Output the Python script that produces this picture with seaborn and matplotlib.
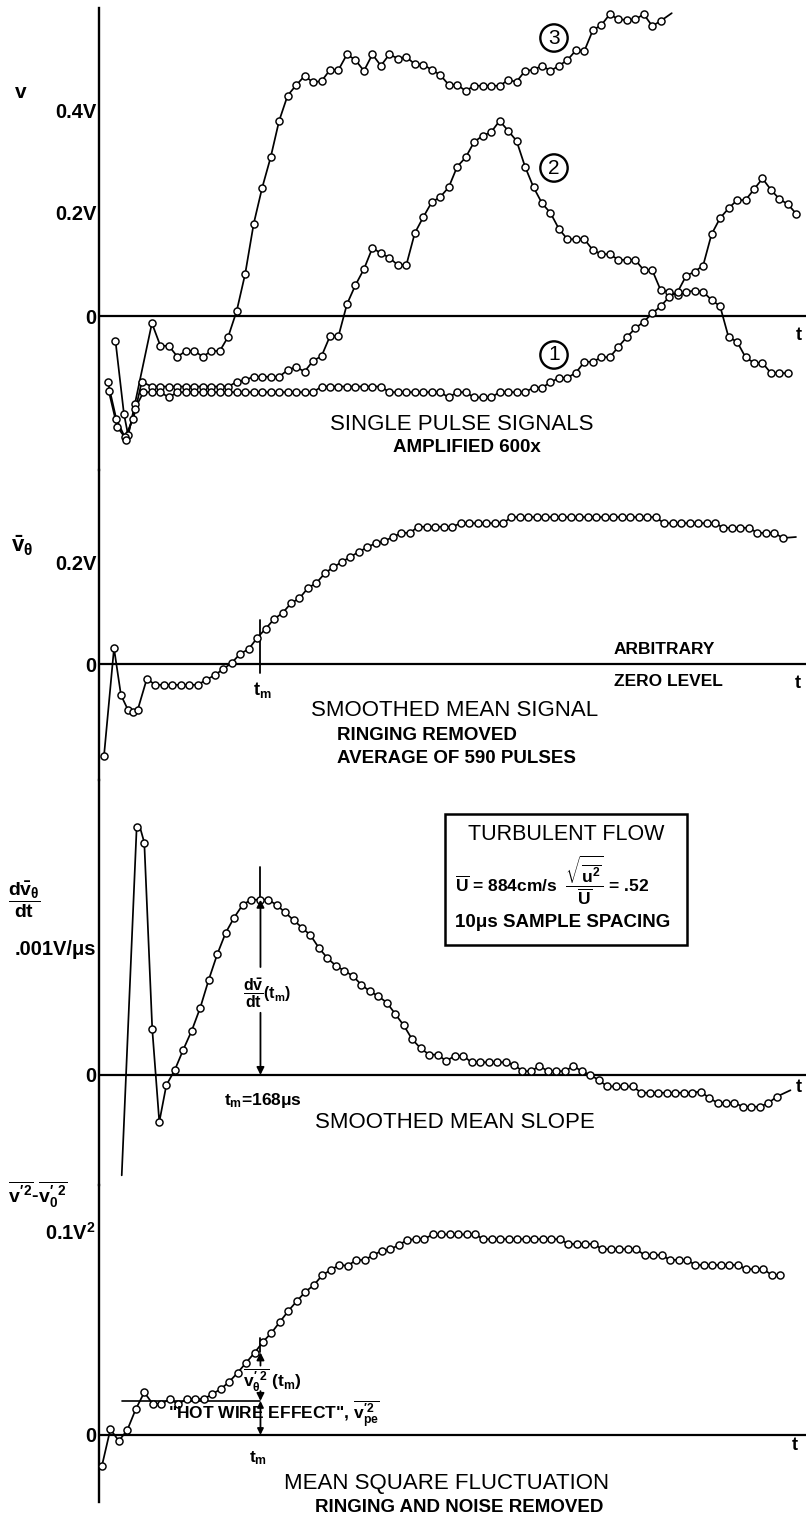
import numpy as np
import seaborn as sns
import matplotlib.pyplot as plt
from matplotlib.patches import Rectangle

# ---------------- data (time in microseconds, 10 us sample spacing) ----------------
TM = 168  # t_m, us

# panel 1: single pulse signals (V)
c3_ring_t = [-3, 7, 12, 20]
c3_ring_v = [-0.048, -0.19, -0.232, -0.17]
c3_start = 40
c3_v = [-0.014, -0.058, -0.058, -0.079, -0.068, -0.068, -0.079, -0.068, -0.068, -0.04,
        0.01, 0.082, 0.179, 0.249, 0.308, 0.379, 0.428, 0.448, 0.466, 0.454,
        0.456, 0.478, 0.478, 0.508, 0.497, 0.476, 0.508, 0.486, 0.508, 0.5,
        0.503, 0.489, 0.488, 0.478, 0.468, 0.449, 0.449, 0.437, 0.447, 0.447,
        0.447, 0.447, 0.458, 0.455, 0.476, 0.478, 0.486, 0.476, 0.486, 0.497,
        0.516, 0.515, 0.555, 0.565, 0.586, 0.576, 0.575, 0.576, 0.586, 0.563,
        0.573]
c3_end = (653, 0.588)

c2_ring_t = [-12, -2, 8, 18, 28]
c2_ring_v = [-0.128, -0.2, -0.235, -0.2, -0.128]
c2_start = 40
c2_v = [-0.137, -0.137, -0.137, -0.137, -0.137, -0.137, -0.137, -0.137, -0.137, -0.137,
        -0.128, -0.124, -0.118, -0.118, -0.118, -0.118, -0.105, -0.099, -0.108, -0.087,
        -0.078, -0.039, -0.039, 0.023, 0.06, 0.091, 0.132, 0.122, 0.113, 0.099,
        0.099, 0.161, 0.192, 0.221, 0.231, 0.25, 0.29, 0.308, 0.338, 0.35,
        0.357, 0.379, 0.36, 0.34, 0.29, 0.25, 0.219, 0.2, 0.169, 0.149,
        0.149, 0.149, 0.128, 0.12, 0.12, 0.109, 0.109, 0.109, 0.089, 0.089,
        0.05, 0.047, 0.041, 0.047, 0.049, 0.047, 0.031, 0.019, -0.041, -0.05,
        -0.08, -0.091, -0.091, -0.111, -0.111, -0.111]

c1_ring_t = [-11, -1, 10, 20]
c1_ring_v = [-0.145, -0.215, -0.24, -0.18]
c1_start = 30
c1_v = [-0.148, -0.148, -0.148, -0.158, -0.148, -0.148, -0.148, -0.148, -0.148, -0.148,
        -0.148, -0.148, -0.148, -0.148, -0.148, -0.148, -0.148, -0.148, -0.148, -0.148,
        -0.148, -0.137, -0.137, -0.137, -0.137, -0.137, -0.137, -0.137, -0.137, -0.148,
        -0.148, -0.148, -0.148, -0.148, -0.148, -0.148, -0.158, -0.148, -0.148, -0.158,
        -0.158, -0.158, -0.148, -0.148, -0.148, -0.148, -0.139, -0.139, -0.129, -0.12,
        -0.12, -0.11, -0.089, -0.089, -0.08, -0.08, -0.06, -0.041, -0.024, -0.011,
        0.005, 0.019, 0.037, 0.047, 0.078, 0.086, 0.098, 0.159, 0.19, 0.209,
        0.225, 0.225, 0.246, 0.267, 0.245, 0.227, 0.217, 0.198]

# panel 2: smoothed mean signal (V)
mean_ring_t = [-16.5, -4.7, 3.5, 11.8, 17.3, 23.2]
mean_ring_v = [-0.18, 0.031, -0.061, -0.09, -0.094, -0.09]
mean_start = 34
mean_v = [-0.029, -0.041, -0.041, -0.041, -0.041, -0.041, -0.041, -0.031, -0.022, -0.01,
          0.002, 0.02, 0.029, 0.051, 0.069, 0.088, 0.1, 0.119, 0.129, 0.149,
          0.159, 0.178, 0.19, 0.2, 0.21, 0.22, 0.229, 0.237, 0.241, 0.249,
          0.257, 0.257, 0.269, 0.269, 0.269, 0.269, 0.269, 0.276, 0.276, 0.276,
          0.276, 0.276, 0.276, 0.288, 0.288, 0.288, 0.288, 0.288, 0.288, 0.288,
          0.288, 0.288, 0.288, 0.288, 0.288, 0.288, 0.288, 0.288, 0.288, 0.288,
          0.288, 0.276, 0.276, 0.276, 0.276, 0.276, 0.276, 0.276, 0.267, 0.267,
          0.267, 0.267, 0.257, 0.257, 0.257, 0.247]
mean_end = (799.5, 0.249)

# panel 3: smoothed mean slope (mV/us, i.e. units of .001 V/us)
slope_line_t = [4.4, 25.1]
slope_line_v = [-0.79, 1.97]
slope_ring_t = [22, 31, 40.4, 48.7]
slope_ring_v = [1.95, 1.83, 0.36, -0.37]
slope_start = 57
slope_v = [-0.08, 0.04, 0.2, 0.35, 0.53, 0.75, 0.95, 1.12, 1.24, 1.34,
           1.38, 1.38, 1.38, 1.34, 1.28, 1.22, 1.16, 1.1, 1.0, 0.92,
           0.86, 0.82, 0.78, 0.71, 0.66, 0.62, 0.57, 0.48, 0.39, 0.28,
           0.21, 0.16, 0.16, 0.11, 0.15, 0.15, 0.1, 0.1, 0.1, 0.1,
           0.1, 0.08, 0.03, 0.03, 0.07, 0.03, 0.03, 0.03, 0.07, 0.03,
           0.0, -0.04, -0.09, -0.09, -0.09, -0.09, -0.14, -0.14, -0.14, -0.14,
           -0.14, -0.14, -0.14, -0.13, -0.18, -0.22, -0.22, -0.22, -0.25, -0.25,
           -0.25, -0.22, -0.17]
slope_end = (793, -0.12)

# panel 4: mean square fluctuation (V^2)
msq_start = -19
msq_v = [-0.0152, 0.0028, -0.0029, 0.0025, 0.0127, 0.0209, 0.0152, 0.0152, 0.0176, 0.0152,
         0.0176, 0.0176, 0.0176, 0.02, 0.0225, 0.026, 0.0305, 0.0354, 0.0403, 0.0457,
         0.0501, 0.0555, 0.0609, 0.0657, 0.0702, 0.0735, 0.0784, 0.0809, 0.0833, 0.083,
         0.0858, 0.0858, 0.0882, 0.0903, 0.091, 0.0931, 0.0956, 0.096, 0.096, 0.0983,
         0.0983, 0.0983, 0.0983, 0.0983, 0.0983, 0.096, 0.096, 0.096, 0.096, 0.096,
         0.096, 0.096, 0.096, 0.096, 0.096, 0.0936, 0.0936, 0.0936, 0.0936, 0.0911,
         0.0911, 0.0911, 0.0911, 0.0911, 0.0882, 0.0882, 0.0882, 0.0858, 0.0858, 0.0858,
         0.0833, 0.0833, 0.0833, 0.0833, 0.0833, 0.0833, 0.0813, 0.0813, 0.0813, 0.0784,
         0.0784]
hot_wire_level = 0.0167

# ---------------- style ----------------
sns.set_style("white")
plt.rcParams['font.family'] = ['Liberation Sans', 'DejaVu Sans']
plt.rcParams['text.color'] = 'black'
plt.rcParams['ytick.color'] = 'black'
plt.rcParams['mathtext.fontset'] = 'custom'
plt.rcParams['mathtext.rm'] = 'Liberation Sans:bold'
plt.rcParams['mathtext.it'] = 'Liberation Sans:bold'
plt.rcParams['mathtext.bf'] = 'Liberation Sans:bold'

W, H = 806, 1520
X_AXIS, X0, PX_US = 99, 118, 0.848
T_LEFT = (X_AXIS - X0) / PX_US
T_RIGHT = (W - X0) / PX_US

fig = plt.figure(figsize=(W / 100, H / 100), dpi=100)


def fx(x):
    return x / W


def fy(y):
    return 1 - y / H


def txt(x, y, s, size=13, weight='bold', ha='center', **kw):
    fig.text(fx(x), fy(y), s, fontsize=size, fontweight=weight, ha=ha, va='center',
             color='black', **kw)


def make_ax(top, bottom, zero, scale, ticks, labels):
    ax = fig.add_axes([fx(X_AXIS), 1 - bottom / H, (W - X_AXIS) / W, (bottom - top) / H])
    ax.patch.set_alpha(0)
    ax.set_xlim(T_LEFT, T_RIGHT)
    ax.set_ylim(-(bottom - zero) / scale, (zero - top) / scale)
    for s in ['top', 'right', 'bottom']:
        ax.spines[s].set_visible(False)
    ax.spines['left'].set_linewidth(1.7)
    ax.spines['left'].set_color('k')
    ax.set_xticks([])
    ax.set_yticks(ticks)
    ax.set_yticklabels(labels, fontweight='bold', color='black')
    ax.tick_params(axis='y', direction='in', length=7, width=1.4, pad=2, labelsize=14.5,
                   colors='k')
    ax.axhline(0, color='k', lw=1.6, zorder=1)
    return ax


def draw(ax, mark_t, mark_v, extra_t=(), extra_v=()):
    lt = np.concatenate([np.asarray(mark_t, float), np.asarray(extra_t, float)])
    lv = np.concatenate([np.asarray(mark_v, float), np.asarray(extra_v, float)])
    order = np.argsort(lt)
    sns.lineplot(x=lt[order], y=lv[order], ax=ax, color='k', linewidth=1.25,
                 sort=False, estimator=None, zorder=2)
    sns.scatterplot(x=mark_t, y=mark_v, ax=ax, s=26, color='white', edgecolor='k',
                    linewidth=1.05, zorder=3)


def grid(start, vals):
    return start + 10 * np.arange(len(vals))


# ---------------- panel 1 ----------------
ax1 = make_ax(8, 470, 316, 515, [0, 0.2, 0.4], ['0', '0.2V', '0.4V'])
draw(ax1, np.r_[c3_ring_t, grid(c3_start, c3_v)], np.r_[c3_ring_v, c3_v],
     [c3_end[0]], [c3_end[1]])
draw(ax1, np.r_[c2_ring_t, grid(c2_start, c2_v)], np.r_[c2_ring_v, c2_v])
draw(ax1, np.r_[c1_ring_t, grid(c1_start, c1_v)], np.r_[c1_ring_v, c1_v])
ax1.set_ylabel('')
txt(21, 92, 'v', size=15)
circ = dict(boxstyle='circle,pad=0.2', fc='white', ec='k', lw=1.7)
for num, yy in [('3', 38), ('2', 168), ('1', 355)]:
    txt(554, yy, num, size=15, weight='normal', bbox=circ)
txt(799, 336, 't', size=13)
txt(462, 425, 'SINGLE PULSE SIGNALS', size=16, weight='normal')
txt(467, 448, 'AMPLIFIED 600x', size=13.5)

# ---------------- panel 2 ----------------
ax2 = make_ax(470, 780, 664, 510, [0, 0.2], ['0', '0.2V'])
draw(ax2, np.r_[mean_ring_t, grid(mean_start, mean_v)], np.r_[mean_ring_v, mean_v],
     [mean_end[0]], [mean_end[1]])
ax2.plot([TM, TM], [0.086, -0.018], color='k', lw=1.3)
txt(22, 546, r'$\bar{v}_{\theta}$', size=16)
txt(262, 690, r't$_{m}$', size=13)
txt(614, 650, 'ARBITRARY', size=12.5, ha='left')
txt(614, 681, 'ZERO LEVEL', size=12.5, ha='left')
txt(798, 684, 't', size=13)
txt(455, 711, 'SMOOTHED MEAN SIGNAL', size=16, weight='normal')
txt(337, 736, 'RINGING REMOVED', size=13.5, ha='left')
txt(337, 758, 'AVERAGE OF 590 PULSES', size=13.5, ha='left')

# ---------------- panel 3 ----------------
ax3 = make_ax(780, 1185, 1075, 127, [0, 1.0], ['0', '.001V/\u03bcs'])
draw(ax3, np.r_[slope_ring_t, grid(slope_start, slope_v)], np.r_[slope_ring_v, slope_v],
     np.r_[slope_line_t, slope_end[0]], np.r_[slope_line_v, slope_end[1]])
arrow = dict(arrowstyle='-|>', color='k', lw=1.3, mutation_scale=11, shrinkA=0, shrinkB=0)
ax3.plot([TM, TM], [1.64, 1.38], color='k', lw=1.3)
ax3.annotate('', xy=(TM, 1.38), xytext=(TM, 0.85), arrowprops=arrow)
ax3.annotate('', xy=(TM, 0), xytext=(TM, 0.49), arrowprops=arrow)
txt(24, 900, r'$\dfrac{d\bar{v}_{\theta}}{dt}$', size=14)
txt(267, 993, r'$\dfrac{d\bar{v}}{dt}$(t$_{m}$)', size=11.5)
txt(263, 1101, r't$_{m}$=168$\mu$s', size=12.5)
txt(799, 1088, 't', size=13)
txt(455, 1123, 'SMOOTHED MEAN SLOPE', size=16, weight='normal')
fig.add_artist(Rectangle((fx(445), fy(945)), (687 - 445) / W, (945 - 814) / H,
                         transform=fig.transFigure, fill=False, lw=1.8, ec='k'))
txt(566, 835, 'TURBULENT FLOW', size=15.5, weight='normal')
txt(455, 880, r'$\overline{\mathrm{U}}$ = 884cm/s  '
              r'$\dfrac{\sqrt{\overline{\mathrm{u}^2}}}{\overline{\mathrm{U}}}$ = .52',
    size=12.5, ha='left')
txt(455, 922, '10\u03bcs SAMPLE SPACING', size=13.5, ha='left')

# ---------------- panel 4 ----------------
ax4 = make_ax(1185, 1502, 1435, 2040, [0, 0.1], ['0', '0.1V$^{2}$'])
draw(ax4, grid(msq_start, msq_v), msq_v)
ax4.plot([5, TM], [hot_wire_level, hot_wire_level], color='k', lw=1.2)
ax4.plot([TM, TM], [0.0475, 0.0405], color='k', lw=1.3)
ax4.annotate('', xy=(TM, 0.0405), xytext=(TM, 0.034), arrowprops=arrow)
ax4.annotate('', xy=(TM, hot_wire_level), xytext=(TM, 0.0215), arrowprops=arrow)
ax4.annotate('', xy=(TM, 0), xytext=(TM, hot_wire_level),
             arrowprops=dict(arrowstyle='<|-|>', color='k', lw=1.3, mutation_scale=9,
                             shrinkA=0, shrinkB=0))
txt(38, 1195, r"$\overline{v'^{2}}$-$\overline{v_{0}'^{2}}$", size=14)
txt(243, 1380, r"$\overline{v_{\theta}'^{2}}$ (t$_{m}$)", size=12.5, ha='left')
txt(168, 1414, r'"HOT WIRE EFFECT", $\overline{v_{pe}^{\prime 2}}$', size=12.5, ha='left')
txt(258, 1458, r't$_{m}$', size=12.5)
txt(795, 1445, 't', size=13)
txt(447, 1483, 'MEAN SQUARE FLUCTUATION', size=16, weight='normal')
txt(459, 1507, 'RINGING AND NOISE REMOVED', size=13.5)

fig.savefig('out.png', dpi=100, facecolor='white')
